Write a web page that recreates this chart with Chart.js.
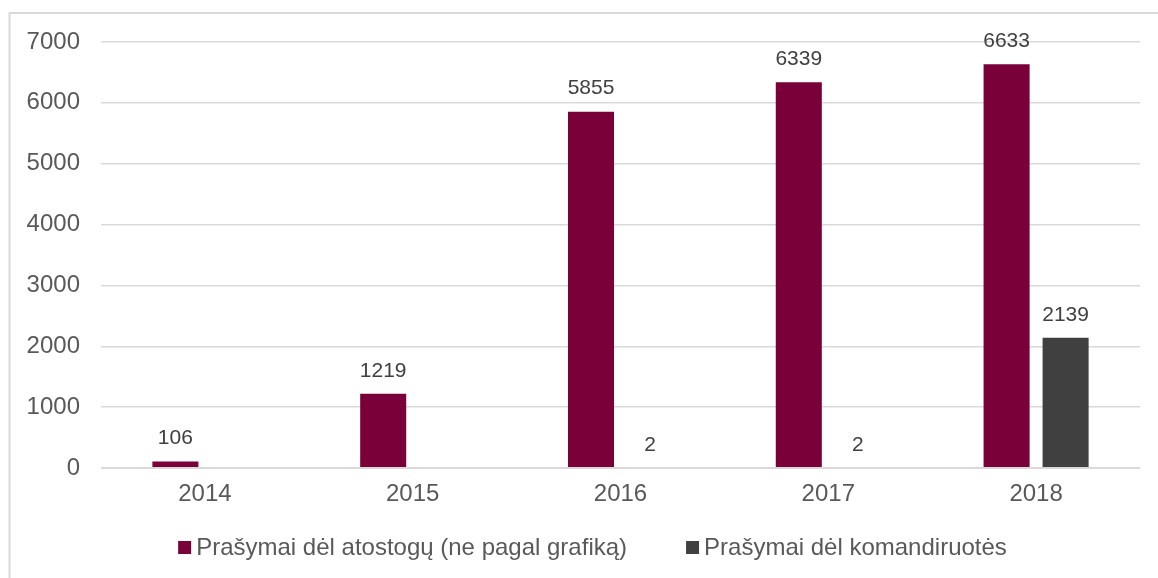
<!DOCTYPE html>
<html>
<head>
<meta charset="utf-8">
<script src="https://cdn.jsdelivr.net/npm/chart.js@4/dist/chart.umd.min.js"></script>
<style>
  html, body { margin: 0; padding: 0; background: #ffffff; }
  #wrap { width: 1158px; height: 578px; position: relative; }
</style>
</head>
<body>
<div id="wrap"><canvas id="c" width="1158" height="578"></canvas></div>
<script>
const categories = ['2014', '2015', '2016', '2017', '2018'];
const seriesNames = ['Prašymai dėl atostogų (ne pagal grafiką)', 'Prašymai dėl komandiruotės'];
const vacationRequests = [106, 1219, 5855, 6339, 6633];
const tripRequests = [null, null, 2, 2, 2139];
const yTicks = [0, 1000, 2000, 3000, 4000, 5000, 6000, 7000];

const COLORS = ['#7A0039', '#404040'];
const FONT = "'Liberation Sans', Arial, sans-serif";

const framePlugin = {
  id: 'frame',
  beforeDraw(chart) {
    const ctx = chart.ctx;
    ctx.save();
    ctx.fillStyle = '#ffffff';
    ctx.fillRect(0, 0, chart.width, chart.height);
    ctx.strokeStyle = '#D9D9D9';
    ctx.lineWidth = 2;
    ctx.beginPath();
    ctx.moveTo(9.5, chart.height + 2);
    ctx.lineTo(9.5, 13);
    ctx.lineTo(chart.width + 2, 13);
    ctx.stroke();
    ctx.restore();
  }
};

const zeroLine = {
  id: 'zeroLine',
  afterDatasetsDraw(chart) {
    const y = Math.round(chart.scales.y.getPixelForValue(0));
    const a = chart.chartArea;
    const ctx = chart.ctx;
    ctx.save();
    ctx.fillStyle = '#D9D9D9';
    ctx.fillRect(a.left, y - 1, a.right - a.left, 2);
    ctx.restore();
  }
};

const valueLabels = {
  id: 'valueLabels',
  afterDatasetsDraw(chart) {
    const ctx = chart.ctx;
    ctx.save();
    ctx.font = '21px ' + FONT;
    ctx.fillStyle = '#404040';
    ctx.textAlign = 'center';
    ctx.textBaseline = 'middle';
    chart.data.datasets.forEach((ds, di) => {
      const meta = chart.getDatasetMeta(di);
      meta.data.forEach((bar, i) => {
        const v = ds.data[i];
        if (v === null || v === undefined) return;
        ctx.fillText(String(v), bar.x, bar.y - 23);
      });
    });
    ctx.restore();
  }
};

const customLegend = {
  id: 'customLegend',
  afterDraw(chart) {
    const ctx = chart.ctx;
    ctx.save();
    ctx.font = '24px ' + FONT;
    const box = 13, gapText = 5, gapItems = 59;
    const items = chart.data.datasets.map(ds => ({
      label: ds.label, color: ds.backgroundColor, w: ctx.measureText(ds.label).width
    }));
    let total = 0;
    items.forEach((it, i) => { total += box + gapText + it.w + (i ? gapItems : 0); });
    let x = 592.5 - total / 2;
    const cy = 547.5;
    items.forEach((it) => {
      ctx.fillStyle = it.color;
      ctx.fillRect(x, cy - box / 2, box, box);
      ctx.fillStyle = '#595959';
      ctx.textAlign = 'left';
      ctx.textBaseline = 'middle';
      ctx.fillText(it.label, x + box + gapText, cy + 1);
      x += box + gapText + it.w + gapItems;
    });
    ctx.restore();
  }
};

new Chart(document.getElementById('c'), {
  type: 'bar',
  data: {
    labels: categories,
    datasets: [
      { label: seriesNames[0], data: vacationRequests, backgroundColor: COLORS[0],
        categoryPercentage: 0.568, barPercentage: 0.78 },
      { label: seriesNames[1], data: tripRequests, backgroundColor: COLORS[1],
        categoryPercentage: 0.568, barPercentage: 0.78 }
    ]
  },
  options: {
    responsive: false,
    animation: false,
    layout: { padding: { left: 0, top: 42, right: 18, bottom: 0 } },
    plugins: {
      legend: { display: false },
      tooltip: { enabled: false }
    },
    scales: {
      x: {
        grid: { display: false, drawTicks: false },
        border: { display: false },
        ticks: { color: '#595959', font: { family: FONT, size: 24 }, padding: 12 },
        afterFit(s) { s.height = 110; }
      },
      y: {
        min: yTicks[0],
        max: yTicks[yTicks.length - 1],
        afterBuildTicks(s) { s.ticks = yTicks.map(v => ({ value: v })); },
        grid: { color: '#D9D9D9', lineWidth: 1.5, drawTicks: false },
        border: { display: false },
        ticks: { color: '#595959', font: { family: FONT, size: 24 }, padding: 21,
                 callback: v => String(v) },
        afterFit(s) { s.width = 101; }
      }
    }
  },
  plugins: [framePlugin, zeroLine, valueLabels, customLegend]
});
</script>
</body>
</html>
